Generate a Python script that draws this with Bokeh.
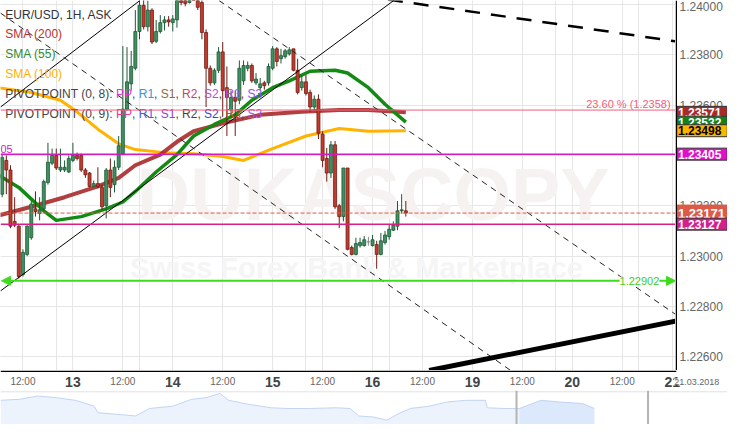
from bokeh.plotting import figure
from bokeh.models import (Range1d, FixedTicker, Span, Label, Arrow, NormalHead,
                          ColumnDataSource, Grid)
from bokeh.layouts import column, row
from bokeh.embed import file_html
from bokeh.resources import INLINE
from bokeh.core.properties import value

FONT = "Liberation Sans"

# ------------------------------------------------------------------ data
# hourly candles, hours counted from 12.03.2018 00:00 (weekend removed)
hours = list(range(7, 105))
opens = [1.23246, 1.23380, 1.23342, 1.23138, 1.23119, 1.22927, 1.23007, 1.23073, 1.23188, 1.23169,
         1.23188, 1.23292, 1.23369, 1.23400, 1.23342, 1.23342, 1.23334, 1.23380, 1.23400, 1.23400,
         1.23342, 1.23330, 1.23277, 1.23288, 1.23273, 1.23200, 1.23342, 1.23284, 1.23353, 1.23407,
         1.23584, 1.23684, 1.23746, 1.23892, 1.23996, 1.23911, 1.23977, 1.23853, 1.23892, 1.23927,
         1.23938, 1.23927, 1.23938, 1.24023, 1.24015, 1.24007, 1.24053, 1.24027, 1.24007, 1.23888,
         1.23746, 1.23688, 1.23738, 1.23811, 1.23669, 1.23580, 1.23630, 1.23619, 1.23696, 1.23746,
         1.23757, 1.23688, 1.23669, 1.23688, 1.23688, 1.23746, 1.23823, 1.23784, 1.23792, 1.23803,
         1.23823, 1.23738, 1.23669, 1.23692, 1.23650, 1.23592, 1.23623, 1.23484, 1.23388, 1.23330,
         1.23442, 1.23200, 1.23157, 1.23350, 1.23034, 1.23007, 1.23042, 1.23042, 1.23057, 1.23042,
         1.23046, 1.23007, 1.23054, 1.23077, 1.23103, 1.23119, 1.23180, 1.23180]
highs = [1.23407, 1.23400, 1.23361, 1.23234, 1.23123, 1.23027, 1.23123, 1.23219, 1.23257, 1.23234,
         1.23304, 1.23450, 1.23427, 1.23427, 1.23427, 1.23380, 1.23400, 1.23450, 1.23411, 1.23407,
         1.23350, 1.23334, 1.23300, 1.23353, 1.23284, 1.23350, 1.23388, 1.23380, 1.23477, 1.23834,
         1.23830, 1.23815, 1.23977, 1.24015, 1.24034, 1.24015, 1.23984, 1.23938, 1.23957, 1.23953,
         1.23953, 1.23957, 1.24053, 1.24046, 1.24038, 1.24073, 1.24084, 1.24046, 1.24027, 1.23900,
         1.23757, 1.23746, 1.23830, 1.23850, 1.23753, 1.23657, 1.23657, 1.23777, 1.23777, 1.23773,
         1.23765, 1.23727, 1.23707, 1.23696, 1.23765, 1.23834, 1.23830, 1.23823, 1.23823, 1.23830,
         1.23823, 1.23784, 1.23719, 1.23719, 1.23661, 1.23638, 1.23642, 1.23496, 1.23430, 1.23457,
         1.23457, 1.23207, 1.23350, 1.23350, 1.23042, 1.23073, 1.23073, 1.23080, 1.23077, 1.23084,
         1.23061, 1.23092, 1.23100, 1.23127, 1.23138, 1.23219, 1.23246, 1.23219]
lows = [1.23234, 1.23246, 1.23111, 1.23115, 1.22911, 1.22919, 1.23000, 1.23065, 1.23157, 1.23142,
        1.23180, 1.23284, 1.23361, 1.23342, 1.23334, 1.23334, 1.23330, 1.23373, 1.23380, 1.23334,
        1.23311, 1.23273, 1.23273, 1.23269, 1.23184, 1.23150, 1.23234, 1.23253, 1.23342, 1.23400,
        1.23577, 1.23657, 1.23738, 1.23861, 1.23900, 1.23892, 1.23842, 1.23846, 1.23884, 1.23896,
        1.23911, 1.23892, 1.23907, 1.23996, 1.23992, 1.24003, 1.24030, 1.23977, 1.23861, 1.23592,
        1.23677, 1.23680, 1.23727, 1.23553, 1.23477, 1.23553, 1.23477, 1.23603, 1.23680, 1.23734,
        1.23688, 1.23680, 1.23657, 1.23661, 1.23677, 1.23738, 1.23753, 1.23765, 1.23784, 1.23796,
        1.23734, 1.23642, 1.23657, 1.23638, 1.23573, 1.23580, 1.23465, 1.23353, 1.23296, 1.23311,
        1.23188, 1.23111, 1.23138, 1.23023, 1.23003, 1.23003, 1.23034, 1.23038, 1.23042, 1.23038,
        1.22950, 1.23003, 1.23046, 1.23065, 1.23100, 1.23103, 1.23169, 1.23157]
closes = [1.23392, 1.23342, 1.23119, 1.23123, 1.22919, 1.23015, 1.23119, 1.23207, 1.23177, 1.23184,
          1.23296, 1.23373, 1.23400, 1.23350, 1.23353, 1.23353, 1.23388, 1.23400, 1.23388, 1.23342,
          1.23323, 1.23277, 1.23288, 1.23277, 1.23196, 1.23342, 1.23273, 1.23353, 1.23438, 1.23584,
          1.23692, 1.23753, 1.23892, 1.23996, 1.23911, 1.23977, 1.23850, 1.23892, 1.23927, 1.23938,
          1.23930, 1.23942, 1.24023, 1.24007, 1.24003, 1.24053, 1.24038, 1.23988, 1.23888, 1.23746,
          1.23688, 1.23738, 1.23811, 1.23657, 1.23630, 1.23630, 1.23615, 1.23746, 1.23757, 1.23757,
          1.23696, 1.23703, 1.23684, 1.23677, 1.23753, 1.23823, 1.23773, 1.23796, 1.23815, 1.23819,
          1.23738, 1.23650, 1.23692, 1.23646, 1.23592, 1.23623, 1.23488, 1.23380, 1.23330, 1.23442,
          1.23196, 1.23157, 1.23350, 1.23027, 1.23007, 1.23050, 1.23054, 1.23065, 1.23057, 1.23065,
          1.23007, 1.23061, 1.23084, 1.23107, 1.23123, 1.23180, 1.23184, 1.23171]

sma200_h = [6, 14, 22, 30, 35, 39, 45, 49, 53, 60, 69, 79, 88, 95, 104]
sma200 = [1.23161, 1.23196, 1.23234, 1.23277, 1.23311, 1.23361, 1.23403, 1.23454, 1.23496,
          1.23527, 1.23561, 1.23573, 1.23580, 1.23580, 1.23571]
sma55_h = [6, 11, 17, 20, 26, 32, 36, 39, 44, 49, 53, 58, 63, 67, 72, 76, 81, 87, 90, 95, 99, 104]
sma55 = [1.23323, 1.23273, 1.23180, 1.23142, 1.23157, 1.23188, 1.23215, 1.23257, 1.23334, 1.23403,
         1.23477, 1.23523, 1.23561, 1.23619, 1.23669, 1.23696, 1.23734, 1.23738, 1.23727, 1.23669,
         1.23603, 1.23532]
sma100_h = [6, 14, 21, 25, 30, 35, 39, 46, 53, 60, 65, 72, 80, 88, 95, 104]
sma100 = [1.23669, 1.23650, 1.23619, 1.23573, 1.23504, 1.23446, 1.23423, 1.23411, 1.23407,
          1.23396, 1.23380, 1.23427, 1.23477, 1.23507, 1.23496, 1.23498]

# drawn trend lines: (hours, prices)
chan_up_low_x, chan_up_low_y = [6.6, 101.1], [1.22862, 1.24015]
chan_up_high_x, chan_up_high_y = [6.6, 40.1], [1.23592, 1.24015]
chan_dn_a_x, chan_dn_a_y = [59.1, 168.8], [1.24015, 1.22769]
chan_dn_b_x, chan_dn_b_y = [6.6, 129.2], [1.23965, 1.22546]
trend_dash_x, trend_dash_y = [99.7, 168.8], [1.24019, 1.23853]
trend_solid_x, trend_solid_y = [109.6, 168.8], [1.22546, 1.22742]

fib_level = 1.2358
pivot_level = 1.23405
last_price = 1.23171
pivot_level2 = 1.23127
support_level = 1.22902

y_ticks = [1.226, 1.228, 1.230, 1.232, 1.234, 1.236, 1.238, 1.240]
y_tick_labels = ["1.22600", "1.22800", "1.23000", "1.23200", "1.23400", "1.23600", "1.23800", "1.24000"]
grid_hours = [12, 24, 36, 48, 60, 72, 84, 96, 108, 120, 132, 144, 156, 168]
time_hours = [12, 36, 60, 84, 108, 132, 156]
time_labels = ["12:00"] * 7
day_hours = [24, 48, 72, 96, 120, 144, 168]
day_labels = ["13", "14", "15", "16", "19", "20", "21"]
date_label = "21.03.2018"

tag_values = [1.23571, 1.23532, 1.23498, 1.23405, 1.23171, 1.23127]
tag_texts = ["1.23571", "1.23532", "1.23498", "1.23405", "1.23171", "1.23127"]
tag_bg = ["#a82a2a", "#13801a", "#ffb400", "#e010c8", "#dc5a48", "#d4208c"]
tag_fg = ["white", "white", "black", "white", "white", "white"]

legend_rows = ["EUR/USD, 1H, ASK", "SMA (200)", "SMA (55)", "SMA (100)"]
legend_colors = ["#333333", "#b83232", "#2e8b2e", "#ffb000"]
pivot_names = ["PP", "R1", "S1", "R2", "S2", "R3", "S3"]
pivot8_colors = ["#e22fe2", "#3a93dc", "#8b6d3d", "#c4456a", "#b04ee0", "#b04ee0", "#9c4df0"]
pivot9_colors = ["#f0329a", "#4a5af0", "#9a3ae0", "#444444", "#3344cc", "#e0402a", "#a84ef0"]

# navigator (overview strip)
nav_x = [6.6, 11.1, 15.5, 20.0, 24.6, 29.1, 30.0, 34.7, 39.1, 42.4, 48.0, 52.5, 56.0, 59.3, 61.4,
         66.1, 71.7, 75.4, 80.6, 87.3, 90.6, 92.7, 96.2, 99.5, 101.9, 105.1, 109.6, 114.0, 118.5,
         123.1, 123.6, 127.6, 131.3, 136.5, 140.9, 146.5, 149.3]
nav_y = [0.74, 0.77, 0.87, 0.82, 0.74, 0.56, 0.36, 0.31, 0.26, 0.49, 0.56, 0.77, 0.82, 0.95, 0.74,
         0.62, 0.51, 0.49, 0.49, 0.51, 0.49, 0.26, 0.23, 0.13, 0.31, 0.49, 0.56, 0.69, 0.74,
         0.74, 0.51, 0.49, 0.49, 0.74, 0.69, 0.64, 0.49]
nav_sel_start = 130.6
nav_separators = [130.6, 162.2]

# ------------------------------------------------------------------ layout helpers
X0, X1 = 6.6, 168.8
Y0, Y1 = 1.22546, 1.24015
REF_W, REF_H = 693.0, 382.0
FW, FH = 675, 370
SW = 52                      # width of the price scale
FULL_W = FW + SW
X1_FULL = X0 + FULL_W * (X1 - X0) / FW


def dx(px):
    return X0 + px * (X1 - X0) / REF_W


def dy(py):
    return Y1 - py * (Y1 - Y0) / REF_H


def wdx(w):
    return w * (X1 - X0) / FW


ARIAL = {'P': 667, 'I': 278, 'V': 667, 'O': 778, 'T': 611, 'N': 722, '(': 333, ')': 333,
         ',': 278, ' ': 278, ':': 278, 'R': 722, 'S': 667}


def text_w(s, size):
    return sum(ARIAL.get(ch, 556) for ch in s) * size / 1000.0


xr = Range1d(X0, X1)
yr = Range1d(Y0, Y1)

# ------------------------------------------------------------------ main chart
p = figure(frame_width=FW, frame_height=FH, x_range=xr, y_range=yr, output_backend="svg",
           toolbar_location=None, x_axis_location=None, y_axis_location=None, min_border=0)
p.outline_line_color = None
p.background_fill_color = "white"
p.add_layout(Grid(dimension=0, ticker=FixedTicker(ticks=grid_hours), grid_line_color="#e6e6e6"))
p.add_layout(Grid(dimension=1, ticker=FixedTicker(ticks=y_ticks), grid_line_color="#e6e6e6"))

# watermark
p.text(x=[dx(140)], y=[dy(200)], text=["DUKASCOPY"], text_font=value(FONT), text_font_size="74px",
       text_font_style="bold", text_color="#f6f2f2", text_baseline="middle", text_align="left")
p.text(x=[dx(133)], y=[dy(276)], text=["Swiss Forex Bank & Marketplace"], text_font=value(FONT),
       text_font_size="29px", text_font_style="bold", text_color="#f5f5f5",
       text_baseline="middle", text_align="left")

# SMAs
p.line(sma100_h, sma100, line_color="#ffb300", line_width=3)
p.line(sma200_h, sma200, line_color="#a82a2a", line_width=4, line_alpha=0.9)
p.line(sma55_h, sma55, line_color="#138a13", line_width=3.5)

# candles
fill, line, top, bot = [], [], [], []
for o, c in zip(opens, closes):
    if c > o:
        fill.append("#3f8f5f"); line.append("#1d5a36")
    elif c < o:
        fill.append("#c23b2c"); line.append("#6e1c14")
    else:
        fill.append("#999999"); line.append("#888888")
    top.append(max(o, c)); bot.append(min(o, c))
src = ColumnDataSource(dict(x=hours, top=top, bottom=bot, high=highs, low=lows, fill=fill, line=line))
p.segment(x0="x", y0="high", x1="x", y1="low", line_color="line", line_width=1, source=src)
p.vbar(x="x", width=0.72, top="top", bottom="bottom", fill_color="fill", line_color="line",
       line_width=0.8, source=src)

# trend lines
p.line(chan_up_low_x, chan_up_low_y, line_color="black", line_width=1)
p.line(chan_up_high_x, chan_up_high_y, line_color="black", line_width=1)
p.line(chan_dn_a_x, chan_dn_a_y, line_color="#222222", line_width=1, line_dash="6 5")
p.line(chan_dn_b_x, chan_dn_b_y, line_color="#222222", line_width=1, line_dash="6 5")
p.line(trend_dash_x, trend_dash_y, line_color="black", line_width=2.5, line_dash="15 11")
p.line(trend_solid_x, trend_solid_y, line_color="black", line_width=5)

# horizontal levels
p.add_layout(Span(location=fib_level, dimension="width", line_color="#f0607a", line_width=1))
p.add_layout(Span(location=pivot_level, dimension="width", line_color="#d21cc0", line_width=1.5))
p.add_layout(Span(location=last_price, dimension="width", line_color="#e85a3a", line_width=1,
                  line_dash="4 2"))
p.add_layout(Span(location=pivot_level2, dimension="width", line_color="#d81f86", line_width=1.5))
GREEN = "#3fdc1e"
p.add_layout(Arrow(x_start=dx(1), y_start=support_level, x_end=X1, y_end=support_level,
                   line_color=GREEN, line_width=2,
                   start=NormalHead(size=9, fill_color=GREEN, line_color=GREEN),
                   end=NormalHead(size=9, fill_color=GREEN, line_color=GREEN)))
p.add_layout(Label(x=dx(656), y=support_level, text="1.22902", text_font=FONT,
                   text_font_size="11px", text_color="#3fcc1e", text_align="center",
                   text_baseline="middle", background_fill_color="white"))
p.text(x=[dx(688)], y=[dy(107)], text=["23.60 % (1.2358)"], text_font=value(FONT),
       text_font_size="11px", text_color="#f0607a", text_align="right", text_baseline="middle")
p.text(x=[dx(0)], y=[dy(153)], text=["05"], text_font=value(FONT), text_font_size="11px",
       text_color="#d21cc0", text_align="left", text_baseline="middle")

# legend text
row_y = [15, 35, 55, 76, 97, 117]
for i, (t, c) in enumerate(zip(legend_rows, legend_colors)):
    p.text(x=[dx(5)], y=[dy(row_y[i])], text=[t], text_font=value(FONT), text_font_size="12px",
           text_color=c, text_align="left", text_baseline="middle")

for r, (n, cols) in enumerate([("8", pivot8_colors), ("9", pivot9_colors)]):
    toks = [("PIVOTPOINT (0, %s): " % n, "#444444")]
    for k, (nm, col) in enumerate(zip(pivot_names, cols)):
        toks.append((nm, col))
        if k < len(pivot_names) - 1:
            toks.append((", ", "#444444"))
    xs, ts, cs = [], [], []
    cur = dx(5)
    for t, c in toks:
        xs.append(cur); ts.append(t); cs.append(c)
        cur += wdx(text_w(t, 12))
    p.text(x=xs, y=[dy(row_y[4 + r])] * len(xs), text=ts, text_color=cs, text_font=value(FONT),
           text_font_size="12px", text_align="left", text_baseline="middle")

# ------------------------------------------------------------------ price scale (right)
ps = figure(frame_width=SW, frame_height=FH, x_range=Range1d(0, SW), y_range=yr,
            output_backend="svg", toolbar_location=None, x_axis_location=None,
            y_axis_location=None, min_border=0)
ps.grid.visible = False
ps.outline_line_color = None
ps.text(x=[4] * (len(y_ticks) - 1), y=y_ticks[:-1], text=y_tick_labels[:-1], text_font=value(FONT),
        text_font_size="12px", text_color="#666666", text_align="left", text_baseline="middle")
ps.text(x=[4], y=[y_ticks[-1]], text=[y_tick_labels[-1]], text_font=value(FONT), y_offset=2,
        text_font_size="12px", text_color="#666666", text_align="left", text_baseline="middle")
for v, t, bg, fg in zip(tag_values, tag_texts, tag_bg, tag_fg):
    big = (v == last_price)
    ps.rect(x=[SW / 2.0 + 0.5], y=[v], width=SW - 1.5, height=16 if big else 12,
            height_units="screen", fill_color=bg, line_color="#333333" if not big else bg,
            line_width=1)
    ps.text(x=[2.5], y=[v], text=[t], text_font=value(FONT),
            text_font_size="13px" if big else "12px", text_font_style="bold", text_color=fg,
            text_align="left", text_baseline="middle")
ps.add_layout(Span(location=0.75, dimension="height", line_color="black", line_width=1.5))

# ------------------------------------------------------------------ time labels strip
p2 = figure(frame_width=FULL_W, frame_height=20, x_range=Range1d(X0, X1_FULL),
            y_range=Range1d(0, 20), output_backend="svg", toolbar_location=None, min_border=0,
            x_axis_location=None, y_axis_location=None)
p2.grid.visible = False
p2.outline_line_color = None
p2.line([X0, X1 + wdx(0.75)], [19.25, 19.25], line_color="black", line_width=1.5)
p2.text(x=time_hours, y=[9] * len(time_hours), text=time_labels, text_font=value(FONT),
        text_font_size="10px", text_color="#666666", text_align="center", text_baseline="middle")
p2.text(x=day_hours, y=[9] * len(day_hours), text=day_labels, text_font=value(FONT),
        text_font_size="14px", text_font_style="bold", text_color="#444444",
        text_align="center", text_baseline="middle")
p2.add_layout(Label(x=day_hours[-1], y=9, x_offset=2, text=date_label, text_font=FONT,
                    text_font_size="9px", text_color="#666666", text_align="left",
                    text_baseline="middle", background_fill_color="white"))

# ------------------------------------------------------------------ navigator strip
p3 = figure(frame_width=FULL_W, frame_height=34, x_range=Range1d(X0, X1_FULL),
            y_range=Range1d(0, 1.04), output_backend="svg", toolbar_location=None, min_border=0,
            x_axis_location=None, y_axis_location=None)
p3.grid.visible = False
p3.outline_line_color = None
p3.varea(x=nav_x, y1=[0] * len(nav_x), y2=nav_y, fill_color="#edf3fd")
sel_x = [x for x in nav_x if x >= nav_sel_start]
sel_y = [y for x, y in zip(nav_x, nav_y) if x >= nav_sel_start]
p3.varea(x=sel_x, y1=[0] * len(sel_x), y2=sel_y, fill_color="#dce8fb")
p3.line(nav_x, nav_y, line_color="#c2d4f2", line_width=1)
p3.add_layout(Span(location=1.0, dimension="width", line_color="#e2e2e2", line_width=1))
for s in nav_separators:
    p3.add_layout(Span(location=s, dimension="height", line_color="#b4b4b4", line_width=2))

layout = column(row(p, ps, spacing=0), p2, p3, spacing=0)
open("out.html", "w").write(file_html(layout, INLINE))
